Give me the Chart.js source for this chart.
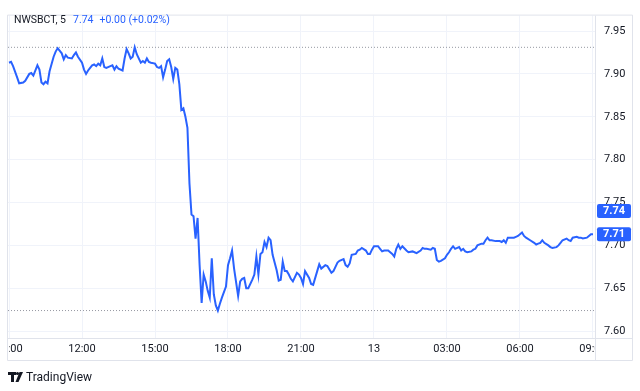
<!DOCTYPE html>
<html>
<head>
<meta charset="utf-8">
<script src="https://cdn.jsdelivr.net/npm/chart.js@4.4.1/dist/chart.umd.min.js"></script>
<style>
  html, body { margin: 0; padding: 0; background: #ffffff; }
  #wrap { width: 640px; height: 391px; position: relative; }
</style>
</head>
<body>
<div id="wrap"><canvas id="c"></canvas></div>
<script>
// ---- data (5-minute bars, index counted from 09:00 of day 12) ----
const barIndex = [0,1,2,4,5,7,8,10,11,12,14,15,16,17,18,19,20,22,23,24,26,27,28,29,31,32,33,34,36,37,38,39,40,41,42,43,44,45,46,47,48,50,51,52,53,54,56,57,58,59,60,61,62,63,65,66,67,68,69,70,72,73,74,75,76,77,78,79,80,81,82,83,84,85,86,87,88,89,90,91,92,93,94,95,96,97,98,99,100,101,102,103,104,105,107,108,109,110,111,113,114,115,116,117,118,120,121,122,123,124,125,126,127,128,129,130,132,133,134,135,136,137,138,139,140,142,143,144,145,146,148,149,150,152,153,154,156,157,159,160,162,163,165,166,167,168,169,171,172,173,174,176,177,178,179,180,182,183,184,185,187,188,189,190,191,192,193,194,196,197,199,200,201,203,204,205,206,208,209,210,211,212,213,215,216,217,218,219,220,222,223,224,225,226,228,229,230,231,233,234,235,236,237,238,240,241,242,243,244,245,246,247,249,250,251,253,254,255,257,259,260,261,262,263,264,266,267,268,270,271,272,273,275,276,277,278,280,281,282,283,285,286,287,288];
const prices = [7.913,7.914,7.909,7.896,7.889,7.890,7.892,7.900,7.901,7.898,7.910,7.905,7.890,7.888,7.891,7.889,7.903,7.920,7.926,7.930,7.924,7.917,7.922,7.919,7.918,7.922,7.925,7.920,7.913,7.905,7.900,7.904,7.907,7.910,7.911,7.909,7.912,7.910,7.918,7.908,7.907,7.909,7.910,7.905,7.909,7.906,7.904,7.918,7.929,7.924,7.918,7.920,7.931,7.923,7.913,7.915,7.913,7.918,7.914,7.913,7.912,7.908,7.907,7.909,7.896,7.905,7.915,7.917,7.908,7.894,7.907,7.905,7.888,7.858,7.860,7.850,7.837,7.772,7.736,7.734,7.708,7.732,7.677,7.633,7.666,7.658,7.647,7.639,7.685,7.643,7.630,7.624,7.632,7.639,7.652,7.677,7.685,7.694,7.673,7.641,7.658,7.661,7.662,7.650,7.650,7.660,7.666,7.687,7.666,7.690,7.692,7.704,7.698,7.709,7.706,7.689,7.671,7.659,7.660,7.681,7.670,7.670,7.666,7.661,7.658,7.668,7.666,7.662,7.655,7.670,7.662,7.655,7.654,7.670,7.678,7.673,7.677,7.676,7.668,7.670,7.680,7.682,7.684,7.677,7.675,7.679,7.689,7.690,7.694,7.695,7.697,7.694,7.690,7.690,7.695,7.699,7.699,7.696,7.693,7.694,7.694,7.692,7.690,7.687,7.696,7.701,7.696,7.699,7.694,7.692,7.693,7.692,7.691,7.694,7.697,7.696,7.696,7.695,7.697,7.696,7.683,7.681,7.682,7.685,7.689,7.692,7.696,7.699,7.696,7.698,7.694,7.696,7.693,7.692,7.693,7.695,7.696,7.700,7.702,7.702,7.706,7.709,7.706,7.706,7.705,7.705,7.705,7.704,7.706,7.703,7.709,7.709,7.709,7.710,7.711,7.715,7.711,7.709,7.706,7.703,7.701,7.702,7.703,7.706,7.703,7.700,7.698,7.697,7.698,7.700,7.703,7.706,7.708,7.706,7.705,7.709,7.710,7.709,7.709,7.708,7.709,7.711,7.713,7.713];
const xTickMinutes = [0,180,360,540,720,900,1080,1260,1440];
const xTickLabels = ["09:00","12:00","15:00","18:00","21:00","13","03:00","06:00","09:00"];
const yTickValues = [7.60,7.65,7.70,7.75,7.80,7.85,7.90,7.95];
const tagValues = [7.74, 7.713];
const tagLabels = ["7.74", "7.71"];
const headerSymbol = "NWSBCT, 5";
const headerPrice = "7.74";
const headerChange = "+0.00 (+0.02%)";

const BLUE = '#2962ff';
const TEXT = '#131722';
const GRID = '#f0f3fa';
const FRAME = '#e0e3eb';
const FONT = 'Roboto, "Noto Sans", sans-serif';

const points = barIndex.map((b, i) => ({ x: b * 5, y: prices[i] }));
const hi = Math.max(...prices), lo = Math.min(...prices);
const X_MIN = -2.5, X_MAX = 1445;

const overlay = {
  id: 'overlay',
  afterDraw(chart) {
    const ctx = chart.ctx, a = chart.chartArea;
    const xs = chart.scales.x, ys = chart.scales.y;
    ctx.save();
    // frame
    ctx.strokeStyle = FRAME; ctx.lineWidth = 1;
    ctx.beginPath();
    ctx.rect(a.left - 0.5, a.top - 0.5, ys.right - a.left + 1, xs.bottom - a.top + 1);
    ctx.moveTo(a.right + 0.5, a.top); ctx.lineTo(a.right + 0.5, xs.bottom);
    ctx.moveTo(a.left, a.bottom + 0.5); ctx.lineTo(ys.right, a.bottom + 0.5);
    ctx.stroke();

    // time labels, clipped to the plot width
    ctx.save();
    ctx.beginPath();
    ctx.rect(a.left + 1, a.bottom, a.right - a.left - 1, xs.bottom - a.bottom);
    ctx.clip();
    ctx.font = '11px ' + FONT;
    ctx.fillStyle = TEXT; ctx.textAlign = 'center'; ctx.textBaseline = 'middle';
    xTickMinutes.forEach((m, i) => {
      ctx.fillText(xTickLabels[i], xs.getPixelForValue(m), a.bottom + 11.5);
    });
    ctx.restore();

    // price tags on the right axis
    ctx.font = 'bold 11px ' + FONT;
    ctx.textAlign = 'left'; ctx.textBaseline = 'middle';
    tagValues.forEach((v, i) => {
      const y = ys.getPixelForValue(v);
      ctx.fillStyle = BLUE;
      ctx.beginPath();
      if (ctx.roundRect) ctx.roundRect(a.right + 2, y - 7, 34, 14, 2); else ctx.rect(a.right + 2, y - 7, 34, 14);
      ctx.fill();
      ctx.fillStyle = '#ffffff';
      ctx.fillText(tagLabels[i], a.right + 8, y + 0.5);
    });

    // header
    ctx.font = '10.5px ' + FONT;
    ctx.textBaseline = 'middle';
    let hx = 14;
    ctx.fillStyle = TEXT; ctx.fillText(headerSymbol, hx, 20);
    hx += ctx.measureText(headerSymbol).width + 7;
    ctx.fillStyle = BLUE; ctx.fillText(headerPrice, hx, 20);
    hx += ctx.measureText(headerPrice).width + 6;
    ctx.fillText(headerChange, hx, 20);

    // footer logo + name
    ctx.fillStyle = TEXT;
    ctx.fillRect(8, 372, 8, 3);
    ctx.fillRect(11, 372, 3, 10);
    ctx.beginPath(); ctx.arc(17.5, 373.5, 1.6, 0, Math.PI * 2); ctx.fill();
    ctx.beginPath();
    ctx.moveTo(19.5, 372); ctx.lineTo(23, 372); ctx.lineTo(18.5, 382); ctx.lineTo(15.5, 382);
    ctx.closePath(); ctx.fill();
    ctx.font = '12px ' + FONT;
    ctx.textBaseline = 'middle';
    ctx.fillText('TradingView', 26, 377.5);
    ctx.restore();
  }
};

new Chart(document.getElementById('c'), {
  type: 'line',
  data: {
    datasets: [
      { data: points, borderColor: BLUE, borderWidth: 2, pointRadius: 0, tension: 0, order: 1 },
      { data: [{ x: X_MIN, y: hi }, { x: X_MAX, y: hi }], borderColor: '#9598a1', borderWidth: 1, borderDash: [1, 2], pointRadius: 0, order: 2 },
      { data: [{ x: X_MIN, y: lo }, { x: X_MAX, y: lo }], borderColor: '#9598a1', borderWidth: 1, borderDash: [1, 2], pointRadius: 0, order: 2 }
    ]
  },
  options: {
    responsive: true,
    maintainAspectRatio: false,
    animation: false,
    layout: { padding: { left: 8, top: 8, right: 8, bottom: 31 } },
    plugins: { legend: { display: false }, tooltip: { enabled: false } },
    scales: {
      x: {
        type: 'linear', min: X_MIN, max: X_MAX,
        afterBuildTicks: s => { s.ticks = xTickMinutes.map(v => ({ value: v })); },
        afterFit: s => { s.height = 22; },
        ticks: { display: false },
        grid: { color: GRID, drawTicks: false },
        border: { display: false }
      },
      y: {
        position: 'right', min: 7.592, max: 7.968,
        afterBuildTicks: s => { s.ticks = yTickValues.map(v => ({ value: v })); },
        afterFit: s => { s.width = 37; },
        ticks: { color: TEXT, padding: 9, font: { family: FONT, size: 11 }, callback: v => v.toFixed(2) },
        grid: { color: GRID, drawTicks: false },
        border: { display: false }
      }
    }
  },
  plugins: [overlay]
});
</script>
</body>
</html>
